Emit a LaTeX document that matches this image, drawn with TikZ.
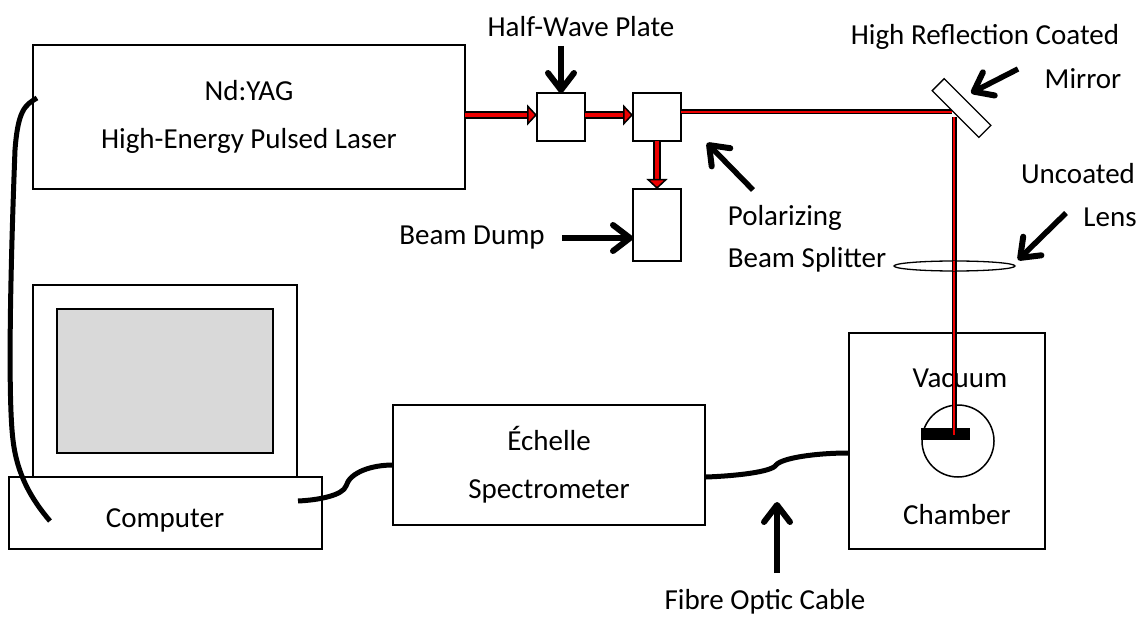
\documentclass[tikz,border=0pt]{standalone}
\usepackage{fontspec}
\setmainfont{Carlito}
\usetikzlibrary{arrows.meta, shapes.geometric, positioning}
\definecolor{beamred}{RGB}{237,0,0}
\definecolor{screengray}{RGB}{217,217,217}
\tikzset{
  part/.style={rectangle, draw=black, fill=white, line width=1.5pt, inner sep=0pt, outer sep=0pt,
    align=center, font=\fontsize{29}{48}\selectfont},
  label/.style={inner sep=0pt, font=\fontsize{29}{34}\selectfont},
  pointer/.style={-{Straight Barb[round,length=17pt,width=26pt,line width=6pt]}, line width=5.5pt, black},
  cable/.style={line width=5pt, black},
  redarrow/.style={-{Triangle[length=10pt,width=21pt,fill=beamred,color=black,line width=1.5pt]},
    line width=4.5pt, beamred, preaction={draw=black, line width=8pt, -, shorten >=4pt}},
  thinbeam/.style={line width=2.4pt, beamred, preaction={draw=black, line width=5pt}},
}

\begin{document}
\begin{tikzpicture}[x=1pt, y=-1pt]
  \useasboundingbox (0,0) rectangle (1139,617);

  \node[part, minimum width=432pt, minimum height=144pt] (laser) at (249,117)
    {Nd:YAG\\High-Energy Pulsed Laser};
  \node[part, minimum width=48pt, minimum height=48pt] (plate) at (561,117) {};
  \node[part, minimum width=48pt, minimum height=48pt, right=48pt of plate] (splitter) {};
  \node[part, minimum width=48pt, minimum height=72pt, below=48pt of splitter] (dump) {};
  \node[part, minimum width=196pt, minimum height=216pt] (chamber) at (947,441) {};
  \node[part, minimum width=312pt, minimum height=120pt] (spectro) at (549,465)
    {Échelle\\Spectrometer};
  \node[part, minimum width=264pt, minimum height=192pt] (monitor) at (165,381) {};
  \node[part, minimum width=216pt, minimum height=144pt, fill=screengray] (screen) at (165,381) {};
  \node[part, minimum width=313pt, minimum height=72pt] (computer) at (165.5,513) {};
  \node[label] (computertext) at (165,520) {Computer};

  \node[part, circle, minimum size=72pt] (sample) at (958,441) {};
  \node[label] (vacuum) at (960,378) {Vacuum};
  \node[label] (chambertext) at (957,515) {Chamber};
  \node[rectangle, fill=black, inner sep=0pt, minimum width=49pt, minimum height=12pt] (target) at (945.5,434) {};

  \coordinate (foldin) at (952,112);
  \coordinate (foldout) at (954,117);
  \coordinate (spot) at (954,435);

  \draw[redarrow] ([yshift=2pt]laser.east) -- ([yshift=2pt]plate.west);
  \draw[redarrow] ([yshift=2pt]plate.east) -- ([yshift=2pt]splitter.west);
  \draw[redarrow] (splitter.south) -- (dump.north);
  \draw[thinbeam] ([yshift=5pt]splitter.east) -- (foldin);
  \draw[thinbeam] (foldout) -- (spot);

  \node[part, line width=1.3pt, minimum width=66pt, minimum height=17pt, rotate=-45] (mirror) at (961.5,108) {};
  \node[ellipse, draw=black, line width=1.3pt, inner sep=0pt, minimum width=121pt, minimum height=10pt] (lens) at (954.5,266) {};
  \draw[thinbeam] (954,261) -- (954,271);

  \node[label] (platetext) at (581,27) {Half-Wave Plate};
  \node[label] (dumptext) at (472,238) {Beam Dump};
  \node[label, align=left, font=\fontsize{29}{42}\selectfont] (splittertext) at (807,239) {Polarizing\\Beam Splitter};
  \node[label] (mirrortext) at (985,37) {High Reflection Coated};
  \node[label] (mirrortextb) at (1083,79) {Mirror};
  \node[label] (lenstext) at (1078,174) {Uncoated};
  \node[label] (lenstextb) at (1110,217) {Lens};
  \node[label] (fibretext) at (765,602) {Fibre Optic Cable};

  \coordinate (platetail) at (561,46);
  \coordinate (dumptail) at (562,238);
  \coordinate (splittertail) at (753,190);
  \coordinate (splitterhead) at (707,143);
  \coordinate (mirrortail) at (1018,69);
  \coordinate (mirrorhead) at (971,93);
  \coordinate (lenstail) at (1066,213);
  \coordinate (lenshead) at (1018,260);
  \coordinate (fibretail) at (777,573);
  \coordinate (fibrehead) at (777,502);

  \draw[pointer] (platetail) -- (plate.north);
  \draw[pointer] (dumptail) -- (dumptail -| dump.west);
  \draw[pointer] (splittertail) -- (splitterhead);
  \draw[pointer] (mirrortail) -- (mirrorhead);
  \draw[pointer] (lenstail) -- (lenshead);
  \draw[pointer] (fibretail) -- (fibrehead);

  \coordinate (lasercableA) at (37,98);
  \coordinate (lasercableB) at (50,521);
  \coordinate (compcableA) at (298,501);
  \coordinate (compcableB) at (393,465);
  \coordinate (fibrecableA) at (706,477);
  \coordinate (fibrecableB) at (849,453);

  \draw[cable] (lasercableA) .. controls (25,105) and (18,110) .. (15,150)
    .. controls (10,280) and (8,400) .. (13,440)
    .. controls (17,475) and (32,500) .. (lasercableB);
  \draw[cable] (compcableA) .. controls (320,500) and (343,495) .. (346,486)
    .. controls (350,472) and (372,465) .. (compcableB);
  \draw[cable] (fibrecableA) .. controls (735,476) and (772,472) .. (776,465)
    .. controls (782,458) and (815,453) .. (fibrecableB);
\end{tikzpicture}
\end{document}
